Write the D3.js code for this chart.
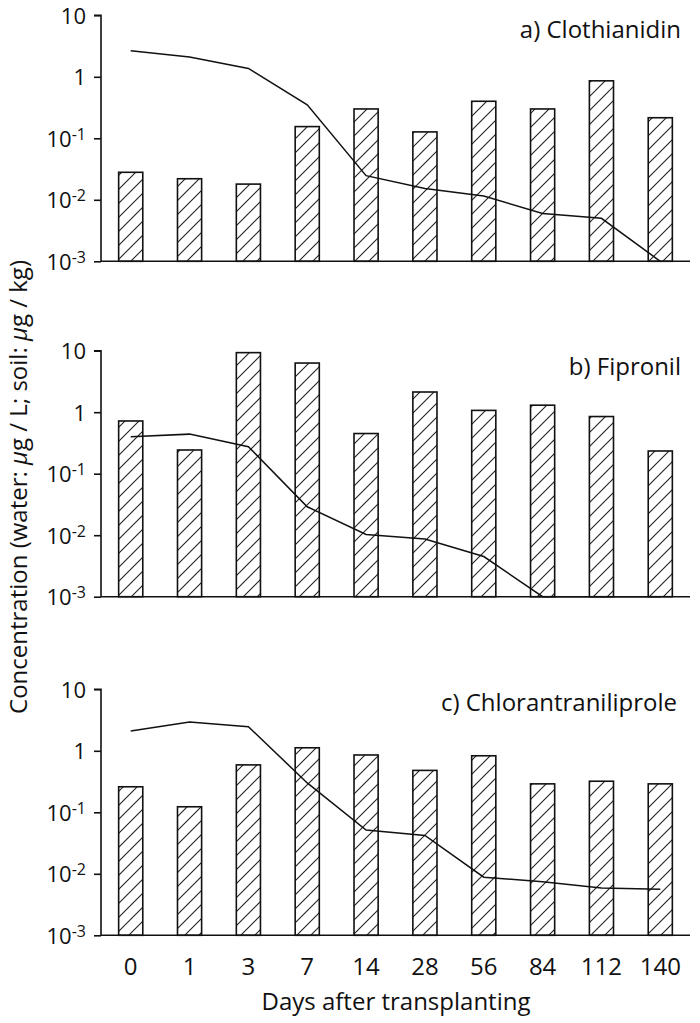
<!DOCTYPE html>
<html><head><meta charset="utf-8">
<script src="https://cdn.jsdelivr.net/npm/d3@7"></script>
<style>body{margin:0;background:#fff}svg{display:block}text{font-family:"Open Sans",sans-serif;fill:#111}</style>
</head><body>
<svg id="c" width="700" height="1023"></svg>
<script>
const days = ["0","1","3","7","14","28","56","84","112","140"];
const panelTitles = ["a) Clothianidin","b) Fipronil","c) Chlorantraniliprole"];
const soilA = [0.028,0.022,0.018,0.155,0.30,0.127,0.40,0.30,0.86,0.216];
const waterA = [2.66,2.1,1.37,0.35,0.0247,0.0153,0.0115,0.006,0.005,0.001];
const soilB = [0.72,0.243,9.3,6.3,0.45,2.13,1.07,1.3,0.85,0.234];
const waterB = [0.40,0.44,0.275,0.029,0.0103,0.0087,0.0045,0.001,0.001,0.001];
const soilC = [0.26,0.123,0.59,1.12,0.855,0.48,0.83,0.29,0.32,0.29];
const waterC = [2.1,2.94,2.47,0.30,0.0515,0.042,0.0088,0.0074,0.0059,0.0056];
const yTicks = [10,1,0.1,0.01,0.001];
const yTickLabels = [["10",""],["1",""],["10","-1"],["10","-2"],["10","-3"]];

const panels = [
  {title:panelTitles[0], soil:soilA, water:waterA, top:15.3, titleY:38, titleX:681},
  {title:panelTitles[1], soil:soilB, water:waterB, top:350.7, titleY:375, titleX:681},
  {title:panelTitles[2], soil:soilC, water:waterC, top:689.3, titleY:711, titleX:677}
];
const svg = d3.select("#c");
const defs = svg.append("defs");
const pat = defs.append("pattern").attr("id","hatch").attr("patternUnits","userSpaceOnUse")
  .attr("width",14).attr("height",14);
pat.append("rect").attr("width",14).attr("height",14).attr("fill","#fff");
pat.append("path").attr("d","M-1,15 L15,-1 M-8,8 L8,-8 M6,22 L22,6").attr("stroke","#222").attr("stroke-width",1.1);

const left = 101, right = 690, ph = 246;
const x = d3.scaleBand().domain(days).range([left,right]).paddingInner(0.59).paddingOuter(0.3);

panels.forEach(p => {
  const y = d3.scaleLog().domain([0.001,10]).range([p.top+ph, p.top]);
  const g = svg.append("g");
  g.selectAll("rect.bar").data(p.soil).join("rect")
    .attr("x",(d,i)=>x(days[i])).attr("width",x.bandwidth())
    .attr("y",d=>y(d)).attr("height",d=>y(0.001)-y(d))
    .attr("fill","url(#hatch)").attr("stroke","#111").attr("stroke-width",1.6);
  const line = d3.line().x((d,i)=>x(days[i])+x.bandwidth()/2).y(d=>y(d));
  g.append("path").attr("d",line(p.water)).attr("fill","none").attr("stroke","#111").attr("stroke-width",1.5);
  const ax = d3.axisLeft(y).tickValues(yTicks).tickSize(7).tickFormat("");
  const ga = g.append("g").attr("transform",`translate(${left},0)`).call(ax);
  ga.select(".domain").attr("stroke","#111").attr("stroke-width",1.6).attr("d",`M-7,${p.top}H0V${p.top+ph}`);
  ga.selectAll(".tick line").attr("stroke","#111").attr("stroke-width",1.6);
  yTicks.forEach((v,i)=>{
    const t = g.append("text").attr("x",86).attr("y",y(v)+8.5).attr("text-anchor","end").attr("font-size",22);
    t.append("tspan").text(yTickLabels[i][0]);
    if (yTickLabels[i][1]) t.append("tspan").attr("font-size",16).attr("dy",-7).text(yTickLabels[i][1]);
  });
  g.append("line").attr("x1",left).attr("x2",right).attr("y1",y(0.001)).attr("y2",y(0.001))
    .attr("stroke","#111").attr("stroke-width",1.6);
  g.append("text").attr("x",p.titleX).attr("y",p.titleY).attr("text-anchor","end").attr("font-size",24).text(p.title);
});

svg.append("g").selectAll("text").data(days).join("text")
  .attr("x",d=>x(d)+x.bandwidth()/2).attr("y",975).attr("text-anchor","middle").attr("font-size",24).text(d=>d);
svg.append("text").attr("x",396).attr("y",1010).attr("text-anchor","middle").attr("font-size",24).text("Days after transplanting");
const yt = svg.append("text").attr("transform","translate(27,487) rotate(-90)").attr("text-anchor","middle").attr("font-size",24);
yt.append("tspan").text("Concentration (water: ");
yt.append("tspan").attr("font-style","italic").text("μ");
yt.append("tspan").text("g / L; soil:  ");
yt.append("tspan").attr("font-style","italic").text("μ");
yt.append("tspan").text("g / kg)");
</script>
</body></html>
